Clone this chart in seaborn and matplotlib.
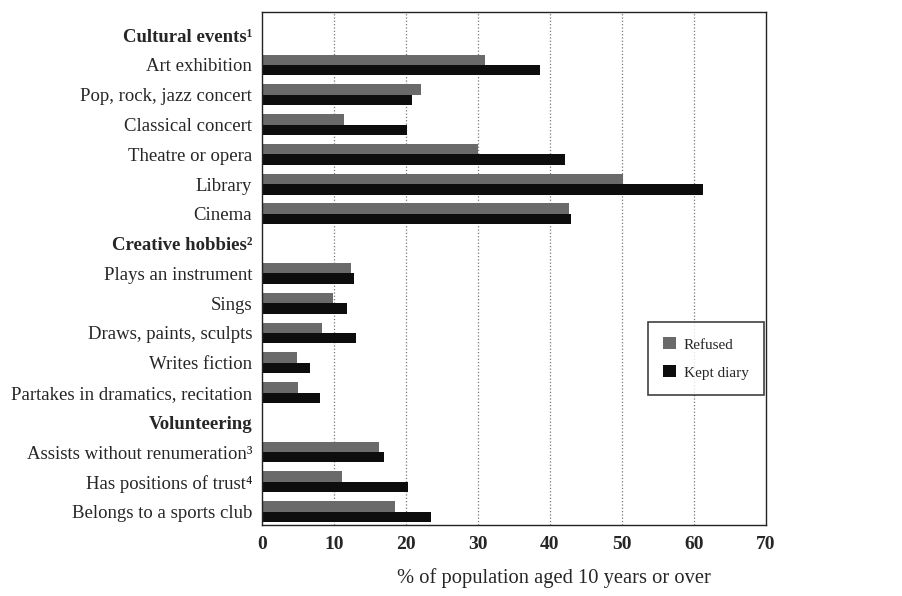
import numpy as np
import pandas as pd
import seaborn as sns
import matplotlib.pyplot as plt

# Row labels (group headers have no bars)
categories = [
    "Cultural events\u00b9", "Art exhibition", "Pop, rock, jazz concert",
    "Classical concert", "Theatre or opera", "Library", "Cinema",
    "Creative hobbies\u00b2", "Plays an instrument", "Sings",
    "Draws, paints, sculpts", "Writes fiction",
    "Partakes in dramatics, recitation",
    "Volunteering", "Assists without renumeration\u00b3",
    "Has positions of trust\u2074", "Belongs to a sports club",
]
headers = ["Cultural events\u00b9", "Creative hobbies\u00b2", "Volunteering"]

refused = [np.nan, 31.0, 22.1, 11.4, 30.0, 50.2, 42.7,
           np.nan, 12.3, 9.9, 8.4, 4.9, 5.0,
           np.nan, 16.3, 11.1, 18.5]
kept_diary = [np.nan, 38.6, 20.8, 20.2, 42.1, 61.2, 42.9,
              np.nan, 12.8, 11.8, 13.0, 6.6, 8.1,
              np.nan, 17.0, 20.3, 23.5]

groups = ["Refused", "Kept diary"]
x_ticks = [0, 10, 20, 30, 40, 50, 60, 70]


def main():
    df = pd.concat([
        pd.DataFrame({"Activity": categories, "Value": refused, "Group": groups[0]}),
        pd.DataFrame({"Activity": categories, "Value": kept_diary, "Group": groups[1]}),
    ], ignore_index=True)

    sns.set_style("white")
    plt.rcParams['font.family'] = ['Liberation Serif', 'DejaVu Serif']

    fig = plt.figure(figsize=(9.02, 5.96), dpi=100)
    ax = fig.add_axes([262 / 902, 1 - 525 / 596, 504 / 902, 513 / 596])

    sns.barplot(data=df, y="Activity", x="Value", hue="Group",
                order=categories, hue_order=groups,
                palette=["#6a6a6a", "#0d0d0d"], width=0.7,
                saturation=1, linewidth=0, ax=ax)

    ax.set_xlim(0, 70)
    ax.set_ylim(16.45, -0.78)
    ax.set_xticks(x_ticks)
    ax.set_xticklabels([str(t) for t in x_ticks], fontsize=14, fontweight="bold")
    ax.tick_params(axis="both", length=0, pad=8)
    ax.tick_params(axis="y", labelsize=13.5, pad=7)
    for lbl in ax.get_yticklabels():
        if lbl.get_text() in headers:
            lbl.set_fontweight("bold")

    # dotted vertical gridlines
    for t in x_ticks[1:-1]:
        ax.axvline(t, color="#777777", linestyle=":", linewidth=0.9, zorder=0)

    for sp in ax.spines.values():
        sp.set_visible(True)
        sp.set_color("#222222")
        sp.set_linewidth(1.0)

    ax.set_ylabel("")
    ax.set_xlabel("% of population aged 10 years or over", fontsize=14.8)
    ax.xaxis.set_label_coords(0.579, -0.084)

    handles, labels = ax.get_legend_handles_labels()
    ax.legend(handles, labels, loc="upper left", bbox_to_anchor=(0.766, 0.396),
              frameon=True, fancybox=False, edgecolor="#111111", fontsize=11,
              handlelength=0.85, handleheight=0.85, handletextpad=0.5,
              borderpad=1.0, labelspacing=0.9, borderaxespad=0)
    leg = ax.get_legend()
    leg.get_frame().set_linewidth(1.2)

    fig.savefig("out.png", dpi=100)


if __name__ == "__main__":
    main()
